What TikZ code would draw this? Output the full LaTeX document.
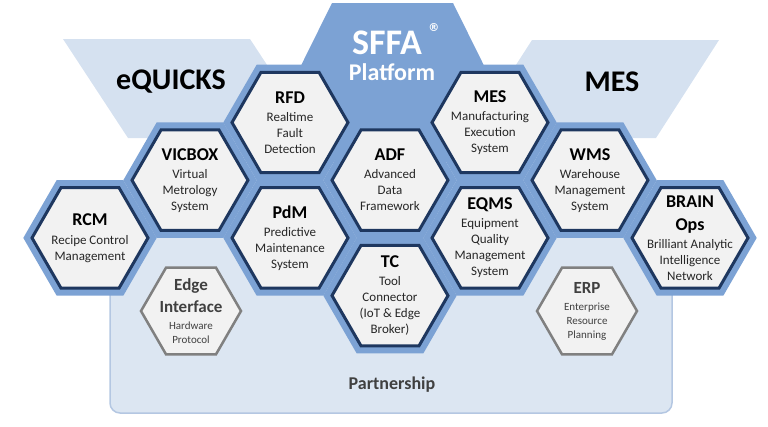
\documentclass[tikz,border=0pt]{standalone}
\usepackage{fontspec}
\setmainfont{Carlito}
\newfontfamily\regfont{DejaVu Sans}
\usetikzlibrary{shapes.geometric}

\definecolor{bandblue}{RGB}{124,162,212}
\definecolor{navyline}{RGB}{30,55,95}
\definecolor{cellfill}{RGB}{242,242,242}
\definecolor{bannerblue}{RGB}{213,225,240}
\definecolor{partfill}{RGB}{220,230,242}
\definecolor{partline}{RGB}{180,199,226}
\definecolor{greyline}{RGB}{128,128,128}
\definecolor{subtext}{RGB}{38,38,38}
\definecolor{greytext}{RGB}{64,64,64}

\tikzset{
  band/.style={regular polygon, regular polygon sides=6, minimum size=133.4pt,
    inner sep=0pt, outer sep=0pt, fill=bandblue},
  cell/.style={regular polygon, regular polygon sides=6, minimum size=116pt,
    inner sep=0pt, draw=navyline, line width=3pt, fill=cellfill},
  greycell/.style={regular polygon, regular polygon sides=6, minimum size=100pt,
    inner sep=0pt, draw=greyline, line width=2.5pt, fill=cellfill},
  celltext/.style={align=center, text=subtext, inner sep=0pt,
    font=\fontsize{13}{16}\selectfont},
  greycelltext/.style={align=center, text=greytext, inner sep=0pt,
    font=\fontsize{11}{14}\selectfont},
  bannertext/.style={inner sep=0pt, font=\fontsize{30}{30}\selectfont\bfseries}
}
\newcommand{\celltitle}[1]{{\fontsize{18}{20}\selectfont\bfseries\color{black}#1}}
\newcommand{\greytitle}[1]{{\fontsize{17}{20}\selectfont\bfseries #1}}

\begin{document}
\begin{tikzpicture}[x=1pt, y=-1pt]
    \useasboundingbox (0,0) rectangle (768,426);

    % Partnership area
    \draw[fill=partfill, draw=partline, line width=1.5pt, rounded corners=10pt]
        (110,200) rectangle (672,413);
    \node[inner sep=0pt, text=greytext, font=\fontsize{18}{18}\selectfont\bfseries]
        (partner) at (392,385) {Partnership};

    % Side banners
    \fill[bannerblue] (63,39) -- (250,39) -- (315,138) -- (128,138) -- cycle;
    \fill[bannerblue] (532,40) -- (719,40) -- (656,138) -- (469,138) -- cycle;
    \node[bannertext] (equicks) at (171,82) {eQUICKS};
    \node[bannertext] (mesbanner) at (612,82) {MES};

    % Platform top
    \fill[bandblue] (332,3) -- (453,3) -- (510,118) -- (390,200) -- (275,118) -- cycle;

    % Hex bands
    \node[band] (rcmband) at (90,237.9) {};
    \node[band] (vicband) at (190,180.2) {};
    \node[band] (rfdband) at (290,122.5) {};
    \node[band] (pdmband) at (290,237.9) {};
    \node[band] (adfband) at (390,180.2) {};
    \node[band] (tcband) at (390,295.6) {};
    \node[band] (mesband) at (490,122.5) {};
    \node[band] (eqmsband) at (490,237.9) {};
    \node[band] (wmsband) at (590,180.2) {};
    \node[band] (brainband) at (690,237.9) {};

    % Hex cells
    \node[cell] (rcm) at (rcmband) {};
    \node[cell] (vic) at (vicband) {};
    \node[cell] (rfd) at (rfdband) {};
    \node[cell] (pdm) at (pdmband) {};
    \node[cell] (adf) at (adfband) {};
    \node[cell] (tc) at (tcband) {};
    \node[cell] (mes) at (mesband) {};
    \node[cell] (eqms) at (eqmsband) {};
    \node[cell] (wms) at (wmsband) {};
    \node[cell] (brain) at (brainband) {};

    % Partner cells
    \node[greycell] (edge) at (191,311) {};
    \node[greycell] (erp) at (587,311) {};

    % Platform title
    \node[inner sep=0pt, text=white, font=\fontsize{36}{36}\selectfont\bfseries]
        (sffa) at (387,43) {SFFA};
    \node[inner sep=0pt, text=white, font=\fontsize{11}{11}\regfont\bfseries,
        anchor=west] (sffareg) at ([xshift=6pt, yshift=3pt]sffa.north east) {®};
    \node[inner sep=0pt, text=white, font=\fontsize{24}{24}\selectfont\bfseries]
        (platform) at (392,72) {Platform};

    % Cell texts
    \node[celltext] (rcmtxt) at (rcm) {\celltitle{RCM}\\[3pt]Recipe Control\\Management};
    \node[celltext] (victxt) at (vic) {\celltitle{VICBOX}\\[2pt]Virtual\\Metrology\\System};
    \node[celltext] (rfdtxt) at (rfd) {\celltitle{RFD}\\[2pt]Realtime\\Fault\\Detection};
    \node[celltext] (pdmtxt) at (pdm) {\celltitle{PdM}\\[2pt]Predictive\\Maintenance\\System};
    \node[celltext] (adftxt) at (adf) {\celltitle{ADF}\\[2pt]Advanced\\Data\\Framework};
    \node[celltext] (tctxt) at (tc) {\celltitle{TC}\\[2pt]Tool\\Connector\\(IoT \& Edge\\Broker)};
    \node[celltext] (mestxt) at (mes) {\celltitle{MES}\\[2pt]Manufacturing\\Execution\\System};
    \node[celltext] (eqmstxt) at (eqms) {\celltitle{EQMS}\\[2pt]Equipment\\Quality\\Management\\System};
    \node[celltext] (wmstxt) at (wms) {\celltitle{WMS}\\[2pt]Warehouse\\Management\\System};
    \node[celltext] (braintxt) at (brain) {\celltitle{BRAIN}\\[7pt]\celltitle{Ops}\\[2pt]Brilliant Analytic\\Intelligence\\Network};
    \node[greycelltext] (edgetxt) at (edge) {\greytitle{Edge}\\[6pt]\greytitle{Interface}\\[3pt]Hardware\\Protocol};
    \node[greycelltext] (erptxt) at (erp) {\greytitle{ERP}\\[3pt]Enterprise\\Resource\\Planning};
\end{tikzpicture}
\end{document}
